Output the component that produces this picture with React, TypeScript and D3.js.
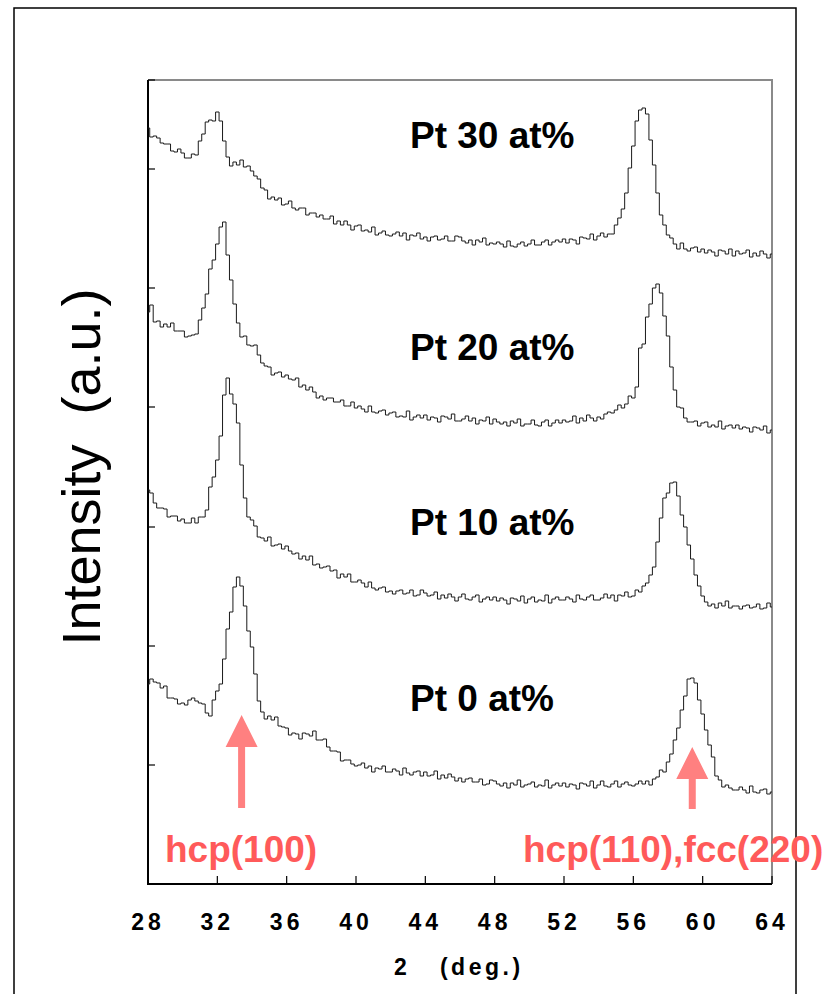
import React, { useEffect, useRef } from "react";
import * as d3 from "d3";

// 2theta grid: 28..64 deg, 0.2 deg step (181 points)
const twoTheta = d3.range(181).map((i) => 28 + i * 0.2);

const seriesNames = ["Pt 30 at%", "Pt 20 at%", "Pt 10 at%", "Pt 0 at%"];
const seriesOffsets = [620, 450, 270, 85];

const pt30 = [
  136, 127, 128, 126, 121, 120, 120, 113, 112, 115,
  111, 106, 106, 110, 109, 123, 130, 142, 144, 143,
  152, 143, 123, 107, 98, 102, 99, 104, 97, 98,
  93, 88, 85, 76, 74, 65, 67, 64, 66, 59,
  60, 63, 56, 54, 56, 56, 49, 51, 51, 47,
  49, 45, 45, 48, 40, 43, 39, 43, 39, 34,
  38, 39, 33, 34, 32, 37, 29, 31, 33, 29,
  28, 30, 32, 28, 31, 24, 29, 28, 31, 25,
  27, 23, 27, 28, 24, 25, 28, 23, 23, 28,
  27, 23, 21, 24, 19, 24, 22, 26, 19, 21,
  20, 22, 20, 17, 23, 18, 17, 20, 22, 18,
  20, 24, 19, 19, 22, 24, 19, 22, 24, 22,
  25, 21, 25, 24, 20, 27, 26, 25, 30, 24,
  28, 31, 27, 30, 30, 39, 46, 55, 71, 96,
  118, 143, 154, 156, 150, 124, 99, 71, 49, 39,
  29, 26, 20, 15, 21, 15, 13, 16, 17, 12,
  15, 11, 14, 12, 8, 14, 13, 10, 15, 8,
  13, 10, 11, 14, 7, 11, 8, 13, 10, 6,
  10,
];

const pt20 = [
  122, 129, 112, 113, 107, 110, 107, 111, 103, 103,
  103, 97, 98, 99, 100, 114, 126, 140, 165, 174,
  190, 207, 212, 179, 154, 130, 111, 97, 98, 89,
  88, 89, 79, 71, 68, 67, 59, 61, 62, 57,
  59, 55, 54, 56, 47, 49, 44, 47, 42, 36,
  38, 34, 36, 36, 32, 32, 34, 28, 28, 32,
  26, 28, 25, 22, 28, 22, 21, 23, 24, 19,
  21, 22, 17, 18, 17, 23, 14, 17, 19, 16,
  19, 14, 17, 16, 12, 18, 17, 15, 20, 13,
  13, 15, 18, 13, 16, 10, 14, 13, 17, 10,
  15, 12, 10, 12, 8, 13, 11, 15, 8, 10,
  10, 14, 9, 8, 12, 14, 8, 11, 14, 11,
  14, 12, 13, 18, 11, 16, 13, 19, 16, 13,
  17, 15, 20, 22, 21, 24, 29, 26, 30, 38,
  36, 47, 86, 90, 117, 130, 146, 150, 141, 118,
  98, 67, 44, 27, 26, 16, 12, 12, 13, 8,
  11, 12, 7, 9, 7, 13, 5, 8, 9, 6,
  9, 5, 7, 6, 2, 7, 6, 4, 8, 1,
  4,
];

const pt10 = [
  124, 121, 111, 106, 106, 105, 97, 98, 98, 93,
  95, 91, 91, 96, 91, 97, 97, 104, 127, 137,
  154, 178, 219, 236, 220, 210, 191, 149, 116, 97,
  94, 88, 77, 76, 73, 77, 68, 69, 70, 65,
  68, 63, 60, 61, 55, 58, 54, 58, 49, 50,
  46, 47, 48, 43, 44, 36, 40, 37, 40, 32,
  32, 34, 31, 27, 32, 26, 24, 26, 27, 22,
  23, 20, 23, 24, 20, 21, 24, 18, 19, 24,
  21, 18, 19, 22, 15, 19, 16, 20, 17, 13,
  17, 20, 15, 14, 17, 19, 12, 15, 17, 14,
  17, 13, 16, 14, 10, 16, 15, 13, 18, 11,
  15, 17, 12, 14, 13, 19, 11, 15, 17, 14,
  14, 17, 15, 12, 19, 15, 14, 17, 19, 14,
  14, 16, 20, 16, 19, 13, 19, 18, 22, 17,
  18, 24, 22, 28, 31, 39, 47, 72, 96, 116,
  121, 131, 132, 118, 99, 87, 69, 55, 39, 28,
  18, 12, 8, 10, 6, 11, 8, 13, 6, 8,
  8, 5, 8, 9, 6, 7, 10, 5, 6, 11,
  7,
];

const pt0 = [
  115, 120, 117, 116, 111, 113, 101, 101, 100, 95,
  96, 94, 99, 101, 98, 96, 95, 86, 83, 99,
  108, 115, 140, 170, 187, 212, 222, 213, 193, 168,
  152, 125, 98, 87, 80, 83, 79, 82, 73, 72,
  71, 64, 66, 65, 60, 66, 65, 63, 68, 59,
  59, 60, 52, 48, 48, 47, 38, 39, 39, 35,
  33, 34, 36, 31, 33, 27, 31, 30, 33, 27,
  27, 30, 28, 24, 31, 26, 24, 27, 28, 23,
  27, 23, 24, 28, 20, 24, 21, 25, 22, 18,
  21, 17, 20, 21, 17, 17, 20, 14, 15, 19,
  18, 15, 13, 16, 11, 16, 14, 19, 12, 14,
  15, 17, 12, 14, 13, 19, 11, 14, 16, 13,
  16, 12, 15, 14, 10, 16, 15, 13, 18, 11,
  14, 18, 13, 12, 15, 18, 12, 15, 17, 14,
  13, 15, 18, 15, 18, 14, 20, 22, 29, 27,
  37, 45, 59, 71, 89, 103, 120, 121, 116, 99,
  85, 69, 54, 42, 23, 19, 12, 14, 11, 9,
  9, 12, 9, 6, 13, 7, 6, 9, 10, 5,
  7,
];

const seriesValues = [pt30, pt20, pt10, pt0];

const xTicks = [28, 32, 36, 40, 44, 48, 52, 56, 60, 64];
const yTicks = [119, 238, 357, 477, 596, 715, 804];

// peak markers
const arrowLabels = ["hcp(100)", "hcp(110),fcc(220)"];
const arrowX = [33.4, 59.4];
const arrowTip = [169, 137];
const arrowTail = [76, 75];

const App = () => {
  const ref = useRef<SVGSVGElement>(null);

  useEffect(() => {
    const svg = d3.select(ref.current);
    svg.selectAll("*").remove();

    const margin = { left: 148, top: 80, right: 58, bottom: 110 };
    const width = 830 - margin.left - margin.right;
    const height = 994 - margin.top - margin.bottom;

    const x = d3.scaleLinear().domain([28, 64]).range([margin.left, margin.left + width]);
    const y = d3.scaleLinear().domain([0, 804]).range([margin.top + height, margin.top]);

    // outer frame
    svg
      .append("rect")
      .attr("x", 14)
      .attr("y", 8)
      .attr("width", 782)
      .attr("height", 1000)
      .attr("fill", "none")
      .attr("stroke", "#000")
      .attr("stroke-width", 1.5);

    // plot frame: top/right grey, left/bottom black
    svg
      .append("path")
      .attr("d", `M${x(28)},${y(804)}H${x(64)}V${y(0)}`)
      .attr("fill", "none")
      .attr("stroke", "#8a8a8a")
      .attr("stroke-width", 2);
    svg
      .append("path")
      .attr("d", `M${x(28)},${y(804)}V${y(0)}H${x(64)}`)
      .attr("fill", "none")
      .attr("stroke", "#000")
      .attr("stroke-width", 2);

    // ticks (inward)
    svg
      .selectAll(".xt")
      .data(xTicks)
      .enter()
      .append("line")
      .attr("x1", (d) => x(d))
      .attr("x2", (d) => x(d))
      .attr("y1", y(0))
      .attr("y2", y(0) - 8)
      .attr("stroke", "#000")
      .attr("stroke-width", 1.2);
    svg
      .selectAll(".yt")
      .data(yTicks)
      .enter()
      .append("line")
      .attr("x1", x(28))
      .attr("x2", x(28) + 7)
      .attr("y1", (d) => y(d))
      .attr("y2", (d) => y(d))
      .attr("stroke", "#000")
      .attr("stroke-width", 1.2);

    const tickFont = "'Liberation Sans Narrow', 'Arial Narrow', 'Liberation Sans', Arial, sans-serif";
    svg
      .selectAll(".xl")
      .data(xTicks)
      .enter()
      .append("text")
      .attr("x", (d) => x(d))
      .attr("y", 930)
      .attr("text-anchor", "middle")
      .attr("font-family", tickFont)
      .attr("font-weight", "bold")
      .attr("font-size", 23)
      .attr("letter-spacing", 4)
      .text((d) => d);

    svg
      .append("text")
      .attr("x", 394)
      .attr("y", 975)
      .attr("font-family", tickFont)
      .attr("font-weight", "bold")
      .attr("font-size", 23)
      .attr("letter-spacing", 3.5)
      .style("white-space", "pre")
      .text("2   (deg.)");

    svg
      .append("text")
      .attr("transform", "translate(100,467) rotate(-90)")
      .attr("text-anchor", "middle")
      .attr("font-family", "'Liberation Sans', Arial, sans-serif")
      .attr("font-size", 54)
      .style("white-space", "pre")
      .text("Intensity  (a.u.)");

    // patterns
    const line = d3
      .line<number>()
      .x((d, i) => x(twoTheta[i]))
      .y((d) => y(d))
      .curve(d3.curveStep);

    seriesValues.forEach((vals, k) => {
      svg
        .append("path")
        .datum(vals.map((v) => v + seriesOffsets[k]))
        .attr("d", line)
        .attr("fill", "none")
        .attr("stroke", "#1a1a1a")
        .attr("stroke-width", 1);
    });

    // series labels
    const labelY = [148, 360, 535, 711];
    seriesNames.forEach((name, k) => {
      svg
        .append("text")
        .attr("x", 410)
        .attr("y", labelY[k])
        .attr("font-family", "'Liberation Sans', Arial, sans-serif")
        .attr("font-weight", "bold")
        .attr("font-size", 37)
        .text(name);
    });

    // arrows
    arrowX.forEach((ax, k) => {
      const cx = x(ax);
      const tip = y(arrowTip[k]);
      const base = tip + 32;
      const tail = y(arrowTail[k]);
      svg
        .append("path")
        .attr(
          "d",
          `M${cx},${tip}L${cx + 16},${base}H${cx + 3.5}V${tail}H${cx - 3.5}V${base}H${cx - 16}Z`
        )
        .attr("fill", "#ff8080");
    });

    const arrowLabelX = [165, 523];
    arrowLabels.forEach((t, k) => {
      svg
        .append("text")
        .attr("x", arrowLabelX[k])
        .attr("y", 862)
        .attr("font-family", "'Liberation Sans', Arial, sans-serif")
        .attr("font-weight", "bold")
        .attr("font-size", 37)
        .attr("fill", "#ff5a5a")
        .text(t);
    });
  }, []);

  return (
    <svg
      ref={ref}
      width={830}
      height={994}
      style={{ position: "absolute", left: 0, top: 0, background: "#fff" }}
    />
  );
};

export default App;
